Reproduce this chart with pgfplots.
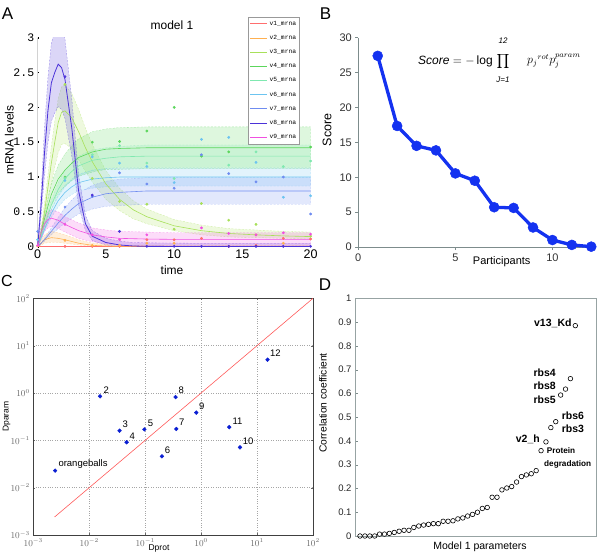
\documentclass[border=0pt]{standalone}
\usepackage{pgfplots}
\pgfplotsset{compat=1.18}
\usepackage{fontspec}
\setmainfont{Liberation Sans}
\newfontfamily\mono{Liberation Mono}
\definecolor{c1}{HTML}{FF6E6E}
\definecolor{c2}{HTML}{FFB050}
\definecolor{c3}{HTML}{A8E05A}
\definecolor{c4}{HTML}{5CD65C}
\definecolor{c5}{HTML}{7FE8B0}
\definecolor{c6}{HTML}{6CC4F0}
\definecolor{c7}{HTML}{6F8CF0}
\definecolor{c8}{HTML}{4B32D8}
\definecolor{c9}{HTML}{F050E0}
\definecolor{bblue}{RGB}{20,50,240}
\definecolor{axgray}{RGB}{125,140,140}
\definecolor{cblue}{RGB}{10,30,210}
\definecolor{cred}{RGB}{255,90,90}
\pgfplotsset{band/.style={fill=#1, fill opacity=0.2, draw=#1, draw opacity=0.55, dash pattern=on 2pt off 1.5pt, line width=0.3pt, forget plot},
dots/.style={only marks, mark=*, mark size=1.2pt, color=#1, forget plot}}
\begin{document}
\begin{tikzpicture}
\path[use as bounding box] (0,0) rectangle (600pt,-557pt);
% ---------------- Panel A
\begin{axis}[at={(37.7pt,-246.7pt)}, anchor=south west, scale only axis,
 width=272.9pt, height=209pt, xmin=0, xmax=20, ymin=0, ymax=3,
 axis x line=bottom, axis y line=left, axis line style={-},
 x axis line style={draw=none}, y axis line style={gray!35, line width=0.8pt},
 xtick={0,5,10,15,20}, ytick={0,0.5,1,1.5,2,2.5,3}, yticklabels={0,0.5,1,1.5,2,2.5,3},
 xtick style={draw=none}, ytick style={black, line width=1.6pt}, tick align=inside, major tick length=1.6pt,
 xticklabel style={font=\fontsize{12.5}{13}\selectfont},
 yticklabel style={font=\mono\fontsize{11.5}{12}\selectfont},
 /pgf/number format/assume math mode=true,
 legend style={at={(0.7706,1.1005)}, anchor=north west, font=\mono\fontsize{6.3}{7}\selectfont,
   draw=gray!80, line width=0.5pt, row sep=4.5pt, inner xsep=1.5pt, inner ysep=2pt},
 legend cell align=left,
 legend image code/.code={\draw[#1, line width=0.9pt] (0pt,0pt) -- (17pt,0pt);}]
% bands
\addplot[band=c3] coordinates {(0,0.04)(0.25,0.27)(0.5,0.63)(0.75,1.03)(1,1.44)(1.25,1.80)(1.5,2.12)(1.75,2.30)(2,2.32)(2.5,2.20)(3,1.97)(3.5,1.70)(4,1.47)(5,1.09)(6,0.84)(7,0.66)(8,0.54)(10,0.39)(12,0.31)(14,0.26)(16,0.24)(18,0.22)(20,0.21)
(20,0.11)(18,0.12)(16,0.13)(14,0.14)(12,0.17)(10,0.23)(8,0.33)(7,0.40)(6,0.52)(5,0.68)(4,0.93)(3.5,1.08)(3,1.25)(2.5,1.41)(2,1.48)(1.75,1.47)(1.5,1.35)(1.25,1.14)(1,0.91)(0.75,0.65)(0.5,0.38)(0.25,0.15)(0,0)} -- cycle;
\addplot[band=c4] coordinates {(0,0)(0.25,0.24)(0.5,0.48)(0.75,0.70)(1,0.91)(1.5,1.17)(2,1.33)(2.5,1.45)(3,1.55)(4,1.65)(5,1.69)(6,1.71)(8,1.72)(20,1.72)
(20,1.12)(8,1.12)(6,1.11)(5,1.11)(4,1.07)(3,1.01)(2.5,0.95)(2,0.87)(1.5,0.77)(1,0.59)(0.75,0.46)(0.5,0.32)(0.25,0.16)(0,0)} -- cycle;
\addplot[band=c5] coordinates {(0,0)(0.5,0.34)(1,0.67)(1.5,0.92)(2,1.10)(2.5,1.21)(3,1.30)(4,1.39)(5,1.42)(6,1.44)(8,1.46)(20,1.46)
(20,1.14)(8,1.14)(6,1.14)(5,1.12)(4,1.09)(3,1.02)(2.5,0.95)(2,0.86)(1.5,0.72)(1,0.53)(0.5,0.26)(0,0)} -- cycle;
\addplot[band=c6] coordinates {(0,0)(0.5,0.28)(1,0.54)(1.5,0.75)(2,0.88)(2.5,0.97)(3,1.04)(4,1.10)(5,1.12)(6,1.13)(20,1.13)
(20,0.87)(6,0.87)(5,0.86)(4,0.84)(3,0.80)(2.5,0.75)(2,0.68)(1.5,0.57)(1,0.42)(0.5,0.22)(0,0)} -- cycle;
\addplot[band=c7] coordinates {(0,0)(0.5,0.12)(1,0.27)(1.5,0.42)(2,0.56)(2.5,0.67)(3,0.77)(4,0.88)(5,0.94)(6,0.97)(8,0.99)(20,0.99)
(20,0.61)(8,0.61)(6,0.59)(5,0.58)(4,0.54)(3,0.47)(2.5,0.41)(2,0.34)(1.5,0.26)(1,0.17)(0.5,0.08)(0,0)} -- cycle;
\addplot[band=c8] coordinates {(0,0.05)(0.25,0.78)(0.5,1.70)(0.75,2.43)(1,2.92)(1.25,3.10)(1.5,3.25)(1.75,3.19)(2,2.98)(2.5,2.12)(3,1.03)(3.5,0.45)(4,0.23)(5,0.12)(6,0.08)(7,0.06)(8,0.056)(10,0.052)(12,0.05)(20,0.05)
(20,0)(12,0)(10,0)(8,0)(7,0)(6,0)(5,0.02)(4,0.09)(3.5,0.23)(3,0.59)(2.5,1.30)(2,1.84)(1.75,1.97)(1.5,2.01)(1.25,1.92)(1,1.80)(0.75,1.49)(0.5,1.02)(0.25,0.44)(0,0)} -- cycle;
\addplot[band=c9] coordinates {(0,0.09)(0.25,0.30)(0.5,0.44)(0.75,0.51)(1,0.53)(1.5,0.50)(2,0.43)(3,0.34)(4,0.27)(5,0.24)(6,0.22)(8,0.21)(10,0.20)(20,0.20)
(20,0.01)(10,0.01)(8,0.01)(6,0.02)(5,0.04)(4,0.07)(3,0.12)(2,0.21)(1.5,0.26)(1,0.29)(0.75,0.27)(0.5,0.22)(0.25,0.10)(0,0)} -- cycle;
\addplot[band=c2] coordinates {(0,0.02)(0.5,0.17)(1,0.22)(1.5,0.2)(2,0.17)(3,0.1)(4,0.05)(5,0.035)(6,0.02)(20,0.02)
(20,0)(6,0)(5,0.005)(4,0.01)(3,0.025)(2,0.05)(1.5,0.06)(1,0.065)(0.5,0.05)(0,0)} -- cycle;
% lines
\addplot[c1, line width=0.6pt] coordinates {(0,0.004)(20,0.004)};
\addlegendentry{v1\_mrna}
\addplot[c2, line width=0.6pt] coordinates {(0,0)(0.5,0.1)(1,0.13)(1.5,0.12)(2,0.1)(3,0.05)(4,0.02)(5,0.01)(6,0.004)(20,0.004)};
\addlegendentry{v2\_mrna}
\addplot[c3, line width=0.6pt] coordinates {(0,0)(0.25,0.2)(0.5,0.5)(0.75,0.85)(1,1.2)(1.25,1.5)(1.5,1.78)(1.75,1.93)(2,1.95)(2.5,1.85)(3,1.65)(3.5,1.42)(4,1.22)(5,0.9)(6,0.68)(7,0.53)(8,0.43)(10,0.3)(12,0.23)(14,0.19)(16,0.17)(18,0.155)(20,0.145)};
\addlegendentry{v3\_mrna}
\addplot[c4, line width=0.6pt] coordinates {(0,0)(0.25,0.2)(0.5,0.4)(0.75,0.58)(1,0.75)(1.5,0.97)(2,1.1)(2.5,1.2)(3,1.28)(4,1.36)(5,1.4)(6,1.41)(8,1.42)(20,1.42)};
\addlegendentry{v4\_mrna}
\addplot[c5, line width=0.6pt] coordinates {(0,0)(0.5,0.3)(1,0.6)(1.5,0.82)(2,0.98)(2.5,1.08)(3,1.16)(4,1.24)(5,1.27)(6,1.29)(8,1.3)(20,1.3)};
\addlegendentry{v5\_mrna}
\addplot[c6, line width=0.6pt] coordinates {(0,0)(0.5,0.25)(1,0.48)(1.5,0.66)(2,0.78)(2.5,0.86)(3,0.92)(4,0.97)(5,0.99)(6,1.0)(20,1.0)};
\addlegendentry{v6\_mrna}
\addplot[c7, line width=0.6pt] coordinates {(0,0)(0.5,0.1)(1,0.22)(1.5,0.34)(2,0.45)(2.5,0.54)(3,0.62)(4,0.71)(5,0.76)(6,0.78)(8,0.8)(20,0.8)};
\addlegendentry{v7\_mrna}
\addplot[c8, line width=0.8pt] coordinates {(0,0)(0.25,0.6)(0.5,1.35)(0.75,1.95)(1,2.35)(1.25,2.5)(1.5,2.62)(1.75,2.57)(2,2.4)(2.5,1.7)(3,0.8)(3.5,0.33)(4,0.15)(5,0.06)(6,0.025)(7,0.01)(8,0.005)(10,0.004)(20,0.004)};
\addlegendentry{v8\_mrna}
\addplot[c9, line width=0.6pt] coordinates {(0,0)(0.25,0.2)(0.5,0.33)(0.75,0.39)(1,0.41)(1.5,0.38)(2,0.32)(3,0.23)(4,0.17)(5,0.14)(6,0.12)(8,0.11)(10,0.105)(20,0.105)};
\addlegendentry{v9\_mrna}
% data points
\addplot[dots=c1] coordinates {(2,0.005)(4,0.005)(6,0.005)(8,0.1)(10,0.1)(12,0.12)(14,0.005)(16,0.02)(18,0.12)(20,0.11)};
\addplot[dots=c2] coordinates {(0,0.01)(2,0.09)(4,0.02)(6,0.02)(8,0.05)(10,0.05)(16,0.17)(18,0.05)};
\addplot[dots=c3] coordinates {(2,2.33)(4,0.98)(6,0.65)(8,0.61)(10,0.25)(12,0.62)(14,0.38)(16,0.32)(20,0.15)};
\addplot[dots=c4] coordinates {(2,1.0)(4,1.5)(6,1.51)(8,1.66)(10,2.0)(12,1.30)(14,1.36)(16,1.6)(18,1.61)(20,1.43)};
\addplot[dots=c5] coordinates {(2,0.98)(4,1.32)(6,1.45)(8,1.2)(10,0.98)(14,1.17)(16,1.36)(18,1.15)(20,1.23)};
\addplot[dots=c6] coordinates {(0,0.1)(2,0.95)(4,1.29)(6,1.2)(8,1.15)(10,0.92)(12,1.54)(14,1.57)(16,1.21)(18,0.71)(20,0.73)};
\addplot[dots=c7] coordinates {(0,0.22)(2,0.57)(4,0.72)(6,1.06)(8,0.9)(10,0.84)(12,1.32)(14,1.05)(16,0.93)(18,1.0)(20,0.47)};
\addplot[dots=c8] coordinates {(2,2.44)(4,0.74)(6,0.22)(8,0.005)(10,0.005)(12,0.005)(14,0.005)(16,0.005)(18,0.005)(20,0.005)};
\addplot[dots=c9] coordinates {(0,0.02)(2,0.32)(4,0.17)(6,0.1)(8,0.17)(12,0.27)(14,0.19)(16,0.17)(18,0.2)(20,0.18)};
\end{axis}
% ---------------- Panel B
\begin{axis}[at={(358.3pt,-247pt)}, anchor=south west, scale only axis,
 width=234.7pt, height=209.3pt, xmin=0, xmax=12.09, ymin=0, ymax=30,
 axis lines=left, axis line style={-, axgray, line width=0.8pt},
 xtick={0,5,10}, ytick={0,5,10,15,20,25,30},
 tick style={axgray, line width=0.6pt}, tick align=outside, major tick length=3pt,
 ticklabel style={font=\fontsize{11}{12}\selectfont, text=black!80},
 /pgf/number format/assume math mode=true, clip=false]
\addplot[color=bblue, line width=3.3pt, mark=*, mark size=5pt, mark options={line width=0.5pt}]
 coordinates {(1,27.4)(2,17.35)(3,14.5)(4,13.85)(5,10.55)(6,9.5)(7,5.7)(8,5.6)(9,2.8)(10,1.0)(11,0.3)(12,0.05)};
\end{axis}
% ---------------- Panel C
\begin{axis}[at={(33.3pt,-535pt)}, anchor=south west, scale only axis,
 width=279.7pt, height=236.7pt, xmode=log, ymode=log,
 xmin=1e-3, xmax=1e2, ymin=1e-3, ymax=1e2,
 xtick={1e-3,1e-2,1e-1,1,1e1,1e2}, ytick={1e-3,1e-2,1e-1,1,1e1,1e2},
 xminorticks=false, yminorticks=false,
 grid=major, grid style={dotted, gray!70},
 axis line style={black!75, line width=0.6pt}, tick style={black!60}, major tick length=2pt,
 ticklabel style={font=\fontsize{9}{10}\selectfont, text=black!60}]
\addplot[cred, line width=0.6pt] coordinates {(0.0024,0.0024)(100,100)};
\addplot[only marks, mark=*, mark size=1.9pt, color=cblue] coordinates {
(0.00245,0.0229)(0.0156,0.85)(0.0348,0.16)(0.0466,0.091)(0.0968,0.17)(0.199,0.046)
(0.36,0.174)(0.35,0.82)(0.82,0.385)(4.95,0.071)(3.18,0.19)(15.4,5.06)};
\end{axis}
% ---------------- Panel D
\begin{axis}[at={(355pt,-536pt)}, anchor=south west, scale only axis,
 width=241.7pt, height=237.7pt, xmin=-0.02, xmax=49.37, ymin=0, ymax=1,
 xtick=\empty, ytick={0,0.1,0.2,0.3,0.4,0.5,0.6,0.7,0.8,0.9,1},
 ytick pos=left, tick align=inside, major tick length=2.5pt,
 axis line style={axgray!80, line width=0.7pt}, tick style={axgray},
 yticklabel style={font=\fontsize{9.5}{10}\selectfont, text=black!85},
 /pgf/number format/assume math mode=true, clip=false]
\addplot[only marks, mark=o, mark size=2.3pt, mark options={line width=0.6pt}, color=black] coordinates {
(1,0.0)(2,0.0)(3,0.0)(4,0.0)(5,0.008)(6,0.008)(7,0.011)(8,0.015)(9,0.02)(10,0.024)
(11,0.024)(12,0.036)(13,0.042)(14,0.046)(15,0.049)(16,0.052)(17,0.052)(18,0.062)(19,0.062)(20,0.064)
(21,0.072)(22,0.076)(23,0.084)(24,0.091)(25,0.1)(26,0.116)(27,0.12)(28,0.163)(29,0.163)(30,0.194)
(31,0.202)(32,0.208)(33,0.227)(34,0.25)(35,0.257)(36,0.262)(37,0.275)(38,0.359)(39,0.396)(40,0.456)
(41,0.481)(42,0.593)(43,0.618)(44,0.662)(45,0.885)};
\end{axis}
% ---------------- texts
\node[font=\fontsize{17}{18}\selectfont] at (7.5pt,-13.3pt) {A};
\node[font=\fontsize{17}{18}\selectfont] at (325.5pt,-13.3pt) {B};
\node[font=\fontsize{16}{18}\selectfont] at (7pt,-280.5pt) {C};
\node[font=\fontsize{17}{18}\selectfont] at (325pt,-284.7pt) {D};
\node[font=\fontsize{12}{13}\selectfont] at (172pt,-25pt) {model 1};
\node[font=\fontsize{12}{13}\selectfont] at (172pt,-270pt) {time};
\node[font=\fontsize{12}{13}\selectfont, rotate=90] at (9.3pt,-140pt) {mRNA levels};
\node[font=\fontsize{12.5}{13}\selectfont, rotate=90] at (327pt,-130pt) {Score};
\node[font=\fontsize{11}{12}\selectfont] at (501.7pt,-261.7pt) {Participants};
% formula in B
\node[anchor=west, font=\fontsize{12}{14}\selectfont, inner sep=0pt] at (418pt,-61pt) {$\mathit{Score} = -\log$};
\node[font=\fontsize{16}{18}\selectfont, inner sep=0pt] at (503pt,-61.5pt) {$\displaystyle\prod$};
\node[font=\itshape\fontsize{8}{9}\selectfont, inner sep=0pt] at (503pt,-41pt) {12};
\node[font=\itshape\fontsize{8}{9}\selectfont, inner sep=0pt] at (503pt,-80pt) {J=1};
\node[anchor=west, font=\fontsize{12}{14}\selectfont, inner sep=0pt] at (527pt,-61pt) {$p_j{}^{rot}p_j^{param}$};
% C labels
\begin{scope}[every node/.style={font=\fontsize{9.5}{10}\selectfont, anchor=west, inner sep=0pt}]
\node at (58.3pt,-464.3pt) {orangeballs};
\node at (103.3pt,-390pt) {2};
\node at (122.3pt,-424.3pt) {3};
\node at (129.3pt,-436pt) {4};
\node at (147.7pt,-423.3pt) {5};
\node at (164.7pt,-450.7pt) {6};
\node at (179pt,-422.7pt) {7};
\node at (178.3pt,-390.7pt) {8};
\node at (199pt,-406.7pt) {9};
\node at (242.7pt,-441.7pt) {10};
\node at (232.3pt,-421pt) {11};
\node at (270pt,-353.3pt) {12};
\end{scope}
\node[font=\fontsize{8.5}{9}\selectfont] at (159pt,-548.3pt) {Dprot};
\node[font=\fontsize{8.5}{9}\selectfont, rotate=90] at (6.7pt,-416.7pt) {Dparam};
% D labels
\node[font=\fontsize{10.5}{11}\selectfont] at (480pt,-546.7pt) {Model 1 parameters};
\node[font=\fontsize{10.3}{11}\selectfont, rotate=90] at (323pt,-403pt) {Correlation coefficient};
\begin{scope}[every node/.style={font=\bfseries\fontsize{10.5}{11}\selectfont, inner sep=0pt}]
\node[anchor=east] at (571.7pt,-323pt) {v13\_Kd};
\node[anchor=west] at (533.3pt,-372.7pt) {rbs4};
\node[anchor=west] at (533.3pt,-386pt) {rbs8};
\node[anchor=west] at (533.3pt,-399.3pt) {rbs5};
\node[anchor=west] at (561.7pt,-416pt) {rbs6};
\node[anchor=west] at (561.7pt,-429pt) {rbs3};
\node[anchor=east] at (540pt,-439.3pt) {v2\_h};
\end{scope}
\node[font=\bfseries\fontsize{8.2}{9}\selectfont, anchor=west, inner sep=0pt] at (546.7pt,-451pt) {Protein};
\node[font=\bfseries\fontsize{8.2}{9}\selectfont, anchor=west, inner sep=0pt] at (544pt,-464.3pt) {degradation};
\end{tikzpicture}
\end{document}
